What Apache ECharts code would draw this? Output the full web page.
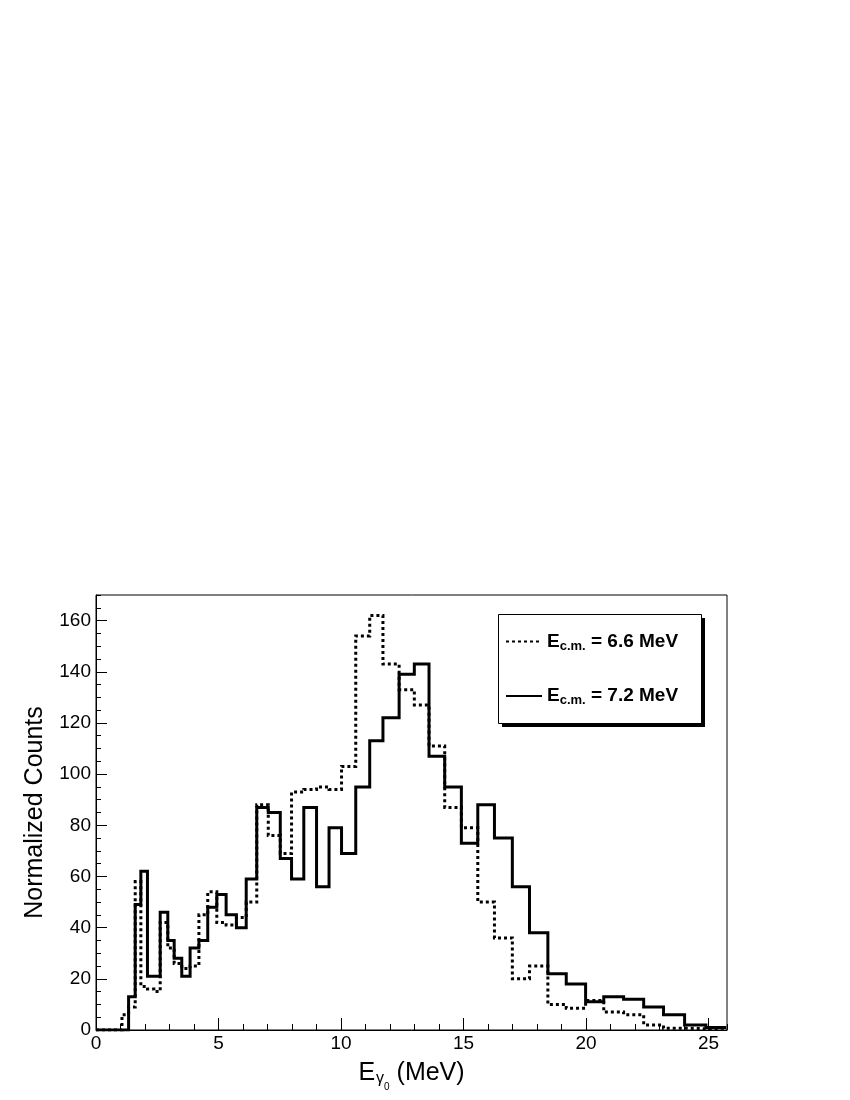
<!DOCTYPE html>
<html>
<head>
<meta charset="utf-8">
<script src="https://cdn.jsdelivr.net/npm/echarts@6/dist/echarts.min.js"></script>
<style>
  html, body { margin: 0; padding: 0; background: #fff; }
  #chart { width: 850px; height: 1100px; }
</style>
</head>
<body>
<div id="chart"></div>
<script>
// bin edges (MeV), variable width as in the original histogram
const binEdges = [0, 0.80, 1.06, 1.33, 1.60, 1.83, 2.10, 2.36, 2.62, 2.93, 3.19, 3.50, 3.84,
  4.20, 4.56, 4.93, 5.31, 5.73, 6.13, 6.56, 7.03, 7.52, 7.98, 8.48, 9.00, 9.51, 10.02,
  10.60, 11.17, 11.71, 12.37, 12.99, 13.59, 14.23, 14.91, 15.58, 16.26, 16.99, 17.69,
  18.44, 19.19, 19.98, 20.72, 21.53, 22.35, 23.16, 24.02, 24.89, 25.72]

// E_cm = 6.6 MeV (dotted)
const counts66 = [0, 0, 6, 9, 58, 17, 16, 15, 42, 32, 26, 24, 25, 45, 54, 42, 41, 44, 50,
  88, 76, 69, 93, 94, 95, 94, 103, 154, 162, 143, 133, 127, 111, 87, 79, 50, 36, 20, 25,
  10, 8.5, 11.5, 7, 6, 2, 0.7, 0.5, 0.7]

// E_cm = 7.2 MeV (solid)
const counts72 = [0, 0, 0, 13, 49, 62, 21, 21, 46, 35, 28, 21, 32, 35, 48, 53, 45, 40, 59,
  87, 85, 67, 59, 87, 56, 79, 69, 95, 113, 122, 139, 143, 107, 95, 73, 88, 75, 56, 38, 22,
  18, 11, 13, 12, 9, 6, 2, 1]

const beamEnergies = ['6.6', '7.2']
const xMax = 25.75
const yMax = 170

const FONT = 'Liberation Sans, Arial, Helvetica, sans-serif'

function stepData(counts) {
  const pts = counts.map((c, i) => [binEdges[i], c])
  pts.push([binEdges[binEdges.length - 1], counts[counts.length - 1]])
  return pts
}

const names = beamEnergies.map(e => 'E_c.m. = ' + e + ' MeV')

const chart = echarts.init(document.getElementById('chart'))

const axisBase = {
  type: 'value',
  splitLine: { show: false },
  axisLine: { show: true, lineStyle: { color: '#000', width: 1 } }
}

chart.setOption({
  backgroundColor: '#fff',
  animation: false,
  grid: {
    left: 96, right: 123, top: 595, bottom: 70,
    show: true, borderColor: '#000', borderWidth: 1
  },
  graphic: [
    { type: 'rect', z: 1, shape: { x: 502, y: 618, width: 203, height: 109 }, style: { fill: '#000' } },
    { type: 'rect', z: 2, shape: { x: 498.5, y: 614.5, width: 203, height: 109 },
      style: { fill: '#fff', stroke: '#000', lineWidth: 1 } }
  ],
  legend: {
    z: 10,
    orient: 'vertical',
    left: 498,
    top: 632,
    padding: [0, 0, 0, 7],
    itemGap: 34,
    itemWidth: 36,
    itemHeight: 14,
    data: names,
    itemStyle: { opacity: 0 },
    formatter: name => {
      const e = name.split('= ')[1]
      return '{m|E}{s|c.m.}{m| = ' + e + '}'
    },
    textStyle: {
      color: '#000',
      rich: {
        m: { fontFamily: FONT, fontSize: 19, fontWeight: 'bold', color: '#000' },
        s: { fontFamily: FONT, fontSize: 13, fontWeight: 'bold', color: '#000', padding: [9, 0, 0, 0] }
      }
    }
  },
  xAxis: [
    Object.assign({}, axisBase, {
      min: 0, max: xMax, interval: 5, position: 'bottom',
      axisTick: { inside: true, length: 12, lineStyle: { color: '#000' } },
      axisLabel: { color: '#000', fontFamily: FONT, fontSize: 19, margin: 4, showMaxLabel: false },
      name: '{m|E}{g|γ}{z|0}{m| (MeV)}',
      nameLocation: 'middle',
      nameGap: 24,
      nameTextStyle: {
        rich: {
          m: { fontFamily: FONT, fontSize: 25, color: '#000' },
          g: { fontFamily: FONT, fontSize: 16, color: '#000', padding: [12, 0, 0, 1] },
          z: { fontFamily: FONT, fontSize: 10, color: '#000', padding: [28, 0, 0, 0] }
        }
      }
    }),
    Object.assign({}, axisBase, {
      min: 0, max: xMax, interval: 1, position: 'bottom',
      axisLine: { show: false },
      axisTick: { inside: true, length: 6, lineStyle: { color: '#000' } },
      axisLabel: { show: false }
    })
  ],
  yAxis: [
    Object.assign({}, axisBase, {
      min: 0, max: yMax, interval: 20, position: 'left',
      axisTick: { inside: true, length: 11, lineStyle: { color: '#000' } },
      axisLabel: { color: '#000', fontFamily: FONT, fontSize: 19, margin: 5, showMaxLabel: false },
      name: 'Normalized Counts',
      nameLocation: 'middle',
      nameGap: 48,
      nameTextStyle: { fontFamily: FONT, fontSize: 25, color: '#000' }
    }),
    Object.assign({}, axisBase, {
      min: 0, max: yMax, interval: 5, position: 'left',
      axisLine: { show: false },
      axisTick: { inside: true, length: 5, lineStyle: { color: '#000' } },
      axisLabel: { show: false }
    })
  ],
  series: [
    {
      name: names[0],
      type: 'line',
      step: 'end',
      symbol: 'none',
      data: stepData(counts66),
      lineStyle: { color: '#000', width: 3, type: [3, 3], join: 'miter' },
      itemStyle: { color: '#000' }
    },
    {
      name: names[1],
      type: 'line',
      step: 'end',
      symbol: 'none',
      data: stepData(counts72),
      lineStyle: { color: '#000', width: 3, join: 'miter' },
      itemStyle: { color: '#000' }
    }
  ]
})
</script>
</body>
</html>
